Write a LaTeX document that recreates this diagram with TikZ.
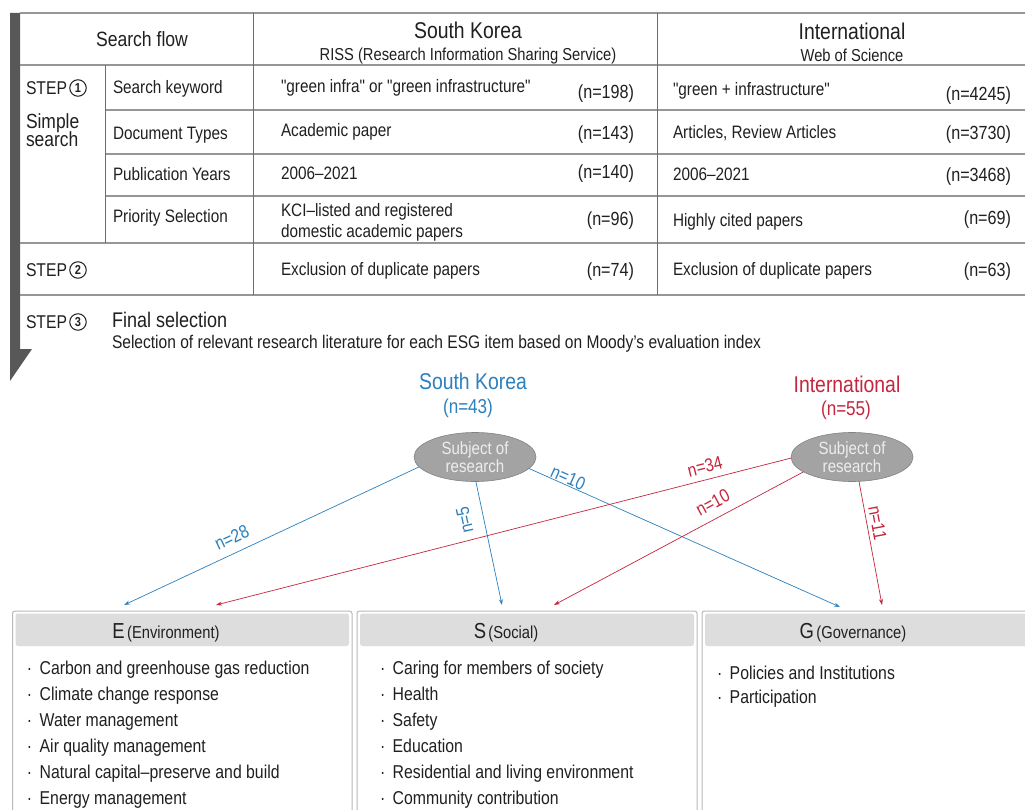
\documentclass[tikz,border=0pt]{standalone}
\usepackage{fontspec}
\setmainfont{Liberation Sans}[FakeStretch=0.85, Ligatures=TeXOff]
\usetikzlibrary{shapes.geometric,arrows.meta}
\definecolor{skblue}{RGB}{45,128,190}
\definecolor{inred}{RGB}{196,38,62}
\definecolor{txt}{RGB}{32,32,32}
\definecolor{rulec}{RGB}{150,150,150}
\definecolor{vrulec}{RGB}{110,110,110}
\definecolor{barc}{RGB}{88,88,88}
\definecolor{ellf}{RGB}{163,163,163}
\definecolor{ellb}{RGB}{130,130,130}
\definecolor{hdrf}{RGB}{221,221,221}
\definecolor{boxb}{RGB}{185,185,185}
\newcommand\fsz[2]{\fontsize{#1}{#2}\selectfont}
\newcommand\bul{·\hspace{0.4em}}
\tikzset{
  hrule/.style={draw=rulec, line width=1.3pt},
  vrule/.style={draw=vrulec, line width=0.8pt},
  tb/.style={font=\fsz{18}{21}, text height=12.8pt, text depth=1pt, anchor=west},
  tn/.style={font=\fsz{19}{22}, text height=13.4pt, text depth=1pt, anchor=east},
  stp/.style={font=\fsz{18.5}{21}, text height=13.3pt, text depth=0pt, anchor=west},
  cnum/.style={circle, draw=txt, line width=1pt, minimum size=16.5pt, font=\fsz{13}{13}\bfseries},
  hbig/.style={font=\fsz{22.8}{25}, text height=16pt, text depth=1pt},
  hsub/.style={font=\fsz{17.3}{20}, text height=12.3pt, text depth=1pt},
  subj/.style={ellipse, fill=ellf, draw=ellb, line width=0.6pt, minimum width=122pt, minimum height=49pt, align=center, text=white!93!black, font=\fsz{17.7}{18.5}},
  lbl/.style={font=\fsz{18.5}{21}, text height=12.8pt, text depth=1pt},
  blueedge/.style={draw=skblue, line width=0.7pt, -{Stealth[length=6pt,width=4pt]}},
  rededge/.style={draw=inred, line width=0.7pt, -{Stealth[length=6pt,width=4pt]}},
  item/.style={font=\fsz{18.6}{21}, text height=13pt, text depth=1pt, anchor=west},
  bhead/.style={text height=15pt, text depth=1pt},
}
\begin{document}
\begin{tikzpicture}[x=1pt,y=-1pt, every node/.style={inner sep=0pt, outer sep=0pt, text=txt}]
\useasboundingbox (0,0) rectangle (1025,810);
\clip (0,0) rectangle (1025,810);
\fill[white] (0,0) rectangle (1025,810);

% left bar with pointer
\fill[barc] (10,13) -- (20,13) -- (20,349) -- (32,349) -- (10,381) -- cycle;

% table rules
\draw[hrule] (20,13) -- (1025,13);
\draw[hrule] (20,65) -- (1025,65);
\draw[hrule] (105,110) -- (1025,110);
\draw[hrule] (105,154) -- (1025,154);
\draw[hrule] (105,196) -- (1025,196);
\draw[hrule] (20,243) -- (1025,243);
\draw[hrule] (20,295) -- (1025,295);
\draw[vrule] (105,65) -- (105,243);
\draw[vrule] (253,13) -- (253,295);
\draw[vrule] (657,13) -- (657,295);

% header
\node[font=\fsz{20.7}{23}, text height=14.8pt, text depth=1pt] (sflow) at (142,40) {Search flow};
\node[hbig] (skhead) at (468,31) {South Korea};
\node[hsub] (riss) at (468,55) {RISS (Research Information Sharing Service)};
\node[hbig] (inhead) at (852,32) {International};
\node[hsub] (wos) at (852,56) {Web of Science};

% step 1
\node[stp] (st1) at (26,88) {STEP};
\node[cnum] (c1) at (78,88) {1};
\node[font=\fsz{20.5}{22}, text height=14.3pt, text depth=0pt, anchor=west] (simp1) at (26,121) {Simple};
\node[font=\fsz{20.5}{22}, text height=14.3pt, text depth=0pt, anchor=west] (simp2) at (26,139) {search};

\node[tb] (r1) at (113,88) {Search keyword};
\node[tb] (r2) at (113,134) {Document Types};
\node[tb] (r3) at (113,175) {Publication Years};
\node[tb] (r4) at (113,217) {Priority Selection};

\node[tb] (k1) at (281,87) {"green infra" or "green infrastructure"};
\node[tn] (kn1) at (634,92) {(n=198)};
\node[tb] (k2) at (281,131) {Academic paper};
\node[tn] (kn2) at (634,133) {(n=143)};
\node[tb] (k3) at (281,174) {2006–2021};
\node[tn] (kn3) at (634,172) {(n=140)};
\node[tb] (k4a) at (281,211) {KCI–listed and registered};
\node[tb] (k4b) at (281,232) {domestic academic papers};
\node[tn] (kn4) at (634,219) {(n=96)};

\node[tb] (i1) at (673,90) {"green + infrastructure"};
\node[tn] (in1) at (1011,94) {(n=4245)};
\node[tb] (i2) at (673,133) {Articles, Review Articles};
\node[tn] (in2) at (1011,133) {(n=3730)};
\node[tb] (i3) at (673,175) {2006–2021};
\node[tn] (in3) at (1011,175) {(n=3468)};
\node[tb] (i4) at (673,221) {Highly cited papers};
\node[tn] (in4) at (1011,218) {(n=69)};

% step 2
\node[stp] (st2) at (26,270) {STEP};
\node[cnum] (c2) at (78,270) {2};
\node[tb] (k5) at (281,270) {Exclusion of duplicate papers};
\node[tn] (kn5) at (634,270) {(n=74)};
\node[tb] (i5) at (673,270) {Exclusion of duplicate papers};
\node[tn] (in5) at (1011,270) {(n=63)};

% step 3
\node[stp] (st3) at (26,322) {STEP};
\node[cnum] (c3) at (78,322) {3};
\node[font=\fsz{21.2}{23}, text height=15pt, text depth=1pt, anchor=west] (final) at (112,320) {Final selection};
\node[font=\fsz{18.3}{21}, text height=13pt, text depth=1pt, anchor=west] (finaldesc) at (112,342) {Selection of relevant research literature for each ESG item based on Moody’s evaluation index};

% graph titles
\node[hbig, text=skblue] (sktitle) at (473,382) {South Korea};
\node[lbl, font=\fsz{20.1}{22}, text=skblue] (skn) at (468,408) {(n=43)};
\node[hbig, text=inred] (intitle) at (847,385) {International};
\node[lbl, font=\fsz{20.1}{22}, text=inred] (inn) at (846,410) {(n=55)};

% ellipses
\node[subj] (sk) at (475,457) {Subject of\\research};
\node[subj] (in) at (852,457) {Subject of\\research};

% targets
\coordinate (eB) at (124,605);
\coordinate (eR) at (216,605);
\coordinate (sB) at (502,605);
\coordinate (sR) at (554,605);
\coordinate (gB) at (840,607);
\coordinate (gR) at (882,605);

\draw[blueedge] (sk.190) -- (eB);
\draw[blueedge] (sk.272) -- (sB);
\draw[blueedge] (sk.348) -- (gB);
\draw[rededge] (in.181) -- (eR);
\draw[rededge] (in.197) -- (sR);
\draw[rededge] (in.286) -- (gR);

\node[lbl, text=skblue, rotate=25] (l28) at (232,538) {n=28};
\node[lbl, text=skblue, rotate=102.5] (l5) at (465,520) {n=5};
\node[lbl, text=skblue, rotate=-24] (l10b) at (568,478) {n=10};
\node[lbl, text=inred, rotate=14.3] (l34) at (705,467) {n=34};
\node[lbl, text=inred, rotate=28.2] (l10r) at (713,503) {n=10};
\node[lbl, text=inred, rotate=-79.4] (l11) at (877,523) {n=11};

% ESG boxes
\draw[boxb, line width=1pt, rounded corners=2.5pt] (12.5,611) rectangle (352,830);
\fill[hdrf, rounded corners=2.5pt] (15.5,613.5) rectangle (349,646);
\draw[boxb, line width=1pt, rounded corners=2.5pt] (357,611) rectangle (697,830);
\fill[hdrf, rounded corners=2.5pt] (360,613.5) rectangle (694,646);
\draw[boxb, line width=1pt, rounded corners=2.5pt] (702,611) rectangle (1045,830);
\fill[hdrf, rounded corners=2.5pt] (705,613.5) rectangle (1045,646);

\node[bhead] (eh) at (166,631) {{\fsz{21.7}{23}E} {\fsz{17.3}{19}(Environment)}};
\node[bhead] (sh) at (506,631) {{\fsz{21.7}{23}S} {\fsz{17.3}{19}(Social)}};
\node[bhead] (gh) at (853,631) {{\fsz{21.7}{23}G} {\fsz{17.3}{19}(Governance)}};

\node[item] (e1) at (27,668) {\bul Carbon and greenhouse gas reduction};
\node[item] (e2) at (27,694) {\bul Climate change response};
\node[item] (e3) at (27,720) {\bul Water management};
\node[item] (e4) at (27,746) {\bul Air quality management};
\node[item] (e5) at (27,772) {\bul Natural capital–preserve and build};
\node[item] (e6) at (27,798) {\bul Energy management};

\node[item] (s1) at (380,668) {\bul Caring for members of society};
\node[item] (s2) at (380,694) {\bul Health};
\node[item] (s3) at (380,720) {\bul Safety};
\node[item] (s4) at (380,746) {\bul Education};
\node[item] (s5) at (380,772) {\bul Residential and living environment};
\node[item] (s6) at (380,798) {\bul Community contribution};

\node[item] (g1) at (717,673) {\bul Policies and Institutions};
\node[item] (g2) at (717,697) {\bul Participation};
\end{tikzpicture}
\end{document}
